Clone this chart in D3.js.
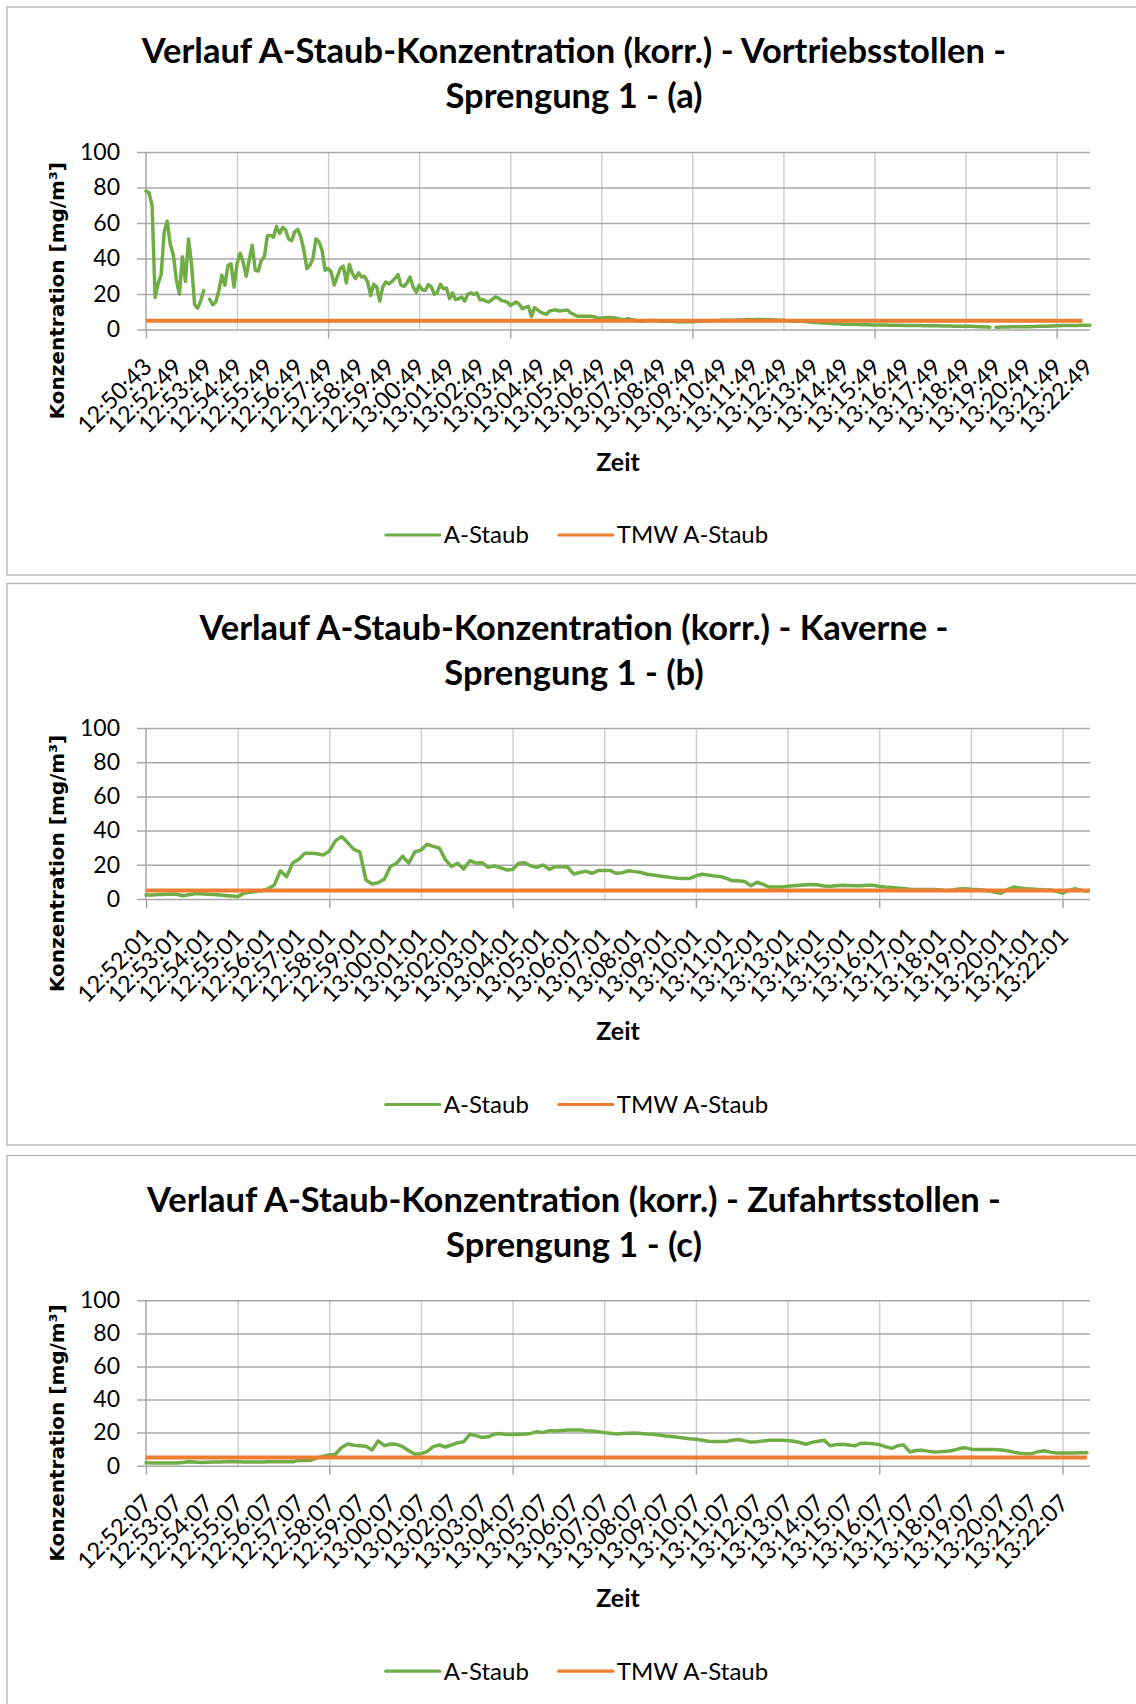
<!DOCTYPE html>
<html>
<head>
<meta charset="utf-8">
<script src="https://cdn.jsdelivr.net/npm/d3@7"></script>
<style>
  html, body { margin: 0; padding: 0; background: #fff; }
  svg { display: block; }
</style>
</head>
<body>
<svg id="chart" width="1136" height="1704"></svg>
<script>
// ---- data ----

// (a) Vortriebsstollen: one value per category
const staubA = [
  78, 77, 70, 18, 26, 31, 55, 61, 48, 42,
  28, 20, 41, 27, 51, 37, 14, 12, 16, 22,
  null, 17, 14, 15.5, 22, 30.6, 25, 36, 37, 24,
  37, 43, 38, 30, 39, 47.5, 33.4, 33, 39, 41,
  53, 53, 52, 58, 54, 57.5, 56, 51, 50, 55,
  56.4, 52, 44.7, 34.3, 36, 40, 51, 49.4, 44.7, 33.4,
  34.3, 32.5, 25, 29.6, 34.3, 35.7, 26.2, 36.6, 31.5, 28.7,
  31.9, 29.6, 30, 26.8, 19.2, 25.5, 24, 16, 24, 26.8,
  25.8, 27, 28.7, 31, 25, 24.3, 26.2, 29.6, 24, 21,
  25, 22.5, 22, 25.3, 24, 19.8, 21, 25.5, 23, 23.4,
  17.4, 20.6, 16.8, 17.4, 18.3, 16, 19.8, 20.6, 19.8, 20.6,
  16.8, 16.8, 16, 15.5, 16.8, 18.3, 17.9, 16.4, 16, 15.5,
  13.6, 14.5, 15.5, 14.2, 11.7, 12.5, 13, 7.4, 12.3, 11.1,
  9.8, 9, 8.5, 10.4, 10.8, 11.1, 10.4, 10.6, 10.8, 10.8,
  9.2, 8.5, 7.5, 7.5, 7.5, 7.5, 7.4, 7.4, 7, 6.4,
  6.5, 6.6, 6.7, 6.8, 6.6, 6.4, 6, 5.7, 5.8, 6,
  5.5, 5.3, 5.0, 4.7, 4.8, 5.0, 5.1, 5.2, 5.0, 4.8,
  4.7, 4.7, 4.6, 4.7, 4.5, 4.4, 4.3, 4.3, 4.3, 4.4,
  4.3, 4.5, 4.6, 4.8, 4.9, 4.9, 5.0, 4.9, 5.0, 5.1,
  5.2, 5.2, 5.3, 5.2, 5.2, 5.3, 5.4, 5.5, 5.6, 5.7,
  5.5, 5.6, 5.7, 5.6, 5.5, 5.6, 5.5, 5.4, 5.3, 5.2,
  5.2, 5.0, 4.9, 4.8, 4.7, 4.7, 4.6, 4.5, 4.4, 4.2,
  4.0, 3.9, 3.8, 3.7, 3.6, 3.5, 3.4, 3.3, 3.2, 3.1,
  3.0, 3.0, 2.9, 2.9, 2.8, 2.8, 2.7, 2.7, 2.7, 2.6,
  2.6, 2.6, 2.5, 2.5, 2.5, 2.4, 2.4, 2.4, 2.4, 2.4,
  2.3, 2.3, 2.3, 2.2, 2.2, 2.2, 2.1, 2.1, 2.1, 2.1,
  2.1, 2.1, 2.0, 2.0, 2.0, 2.0, 1.9, 1.9, 1.9, 1.9,
  1.9, 1.8, 1.8, 1.7, 1.6, 1.5, 1.4, 1.4, 1.3, null,
  1.3, 1.3, 1.4, 1.4, 1.4, 1.5, 1.5, 1.5, 1.5, 1.6,
  1.6, 1.6, 1.7, 1.7, 1.8, 1.8, 1.9, 1.9, 2.0, 2.0,
  2.1, 2.1, 2.2, 2.2, 2.2, 2.3, 2.3, 2.3, 2.4, 2.4, 2.4, 2.4
];

// (b) Kaverne: one value every 2nd category
const staubB = [
  2.3, 2.4, 2.6, 2.7, 2.9, 2.8, 1.9, 2.5, 3.1, 3.0,
  2.8, 2.6, 2.3, 2.0, 1.7, 1.4, 3.3, 4.0, 4.4, 4.9,
  6.0, 8.2, 16.5, 13, 21, 23.2, 26.7, 26.7, 26.5, 25.7,
  28, 34, 36.5, 33, 29, 27.5, 11.1, 8.8, 9.5, 11.5,
  19, 20.9, 25.1, 21, 27.6, 28.5, 32, 30.8, 29.8, 23,
  19, 20.9, 17.5, 22.4, 21, 21.2, 18.5, 19.3, 18.3, 17,
  17.3, 20.9, 21.2, 19.3, 18.5, 19.9, 17.3, 18.9, 18.9, 18.7,
  14.6, 15.5, 16.3, 15, 16.6, 16.6, 16.6, 15, 15.4, 16.5,
  16, 15.5, 14.5, 14, 13.5, 13, 12.5, 12.2, 12, 12,
  13.5, 14.5, 14, 13.5, 13.2, 12, 10.6, 10.6, 10.3, 7.7,
  9.8, 8.5, 7, 7, 7, 7.4, 7.8, 8.1, 8.3, 8.5,
  8.2, 7.6, 7.4, 7.8, 8.1, 7.9, 7.7, 7.8, 8.0, 8.0,
  7.4, 7, 6.8, 6.4, 6.1, 5.7, 5.5, 5.5, 5.5, 5.5,
  5.2, 4.9, 5.2, 5.8, 6, 5.7, 5.5, 5.3, 4.6, 4.0,
  3.4, 5.5, 7, 6.5, 6, 5.8, 5.6, 5.4, 5.3, 4.5,
  3.4, 5.0, 6, 5.2, 4.5
];

// (c) Zufahrtsstollen: one value every 2nd category
const staubC = [
  1.8, 1.7, 1.6, 1.6, 1.6, 1.6, 2.0, 2.4, 2.2, 2.0,
  2.1, 2.2, 2.2, 2.4, 2.6, 2.4, 2.2, 2.2, 2.2, 2.3,
  2.4, 2.4, 2.4, 2.4, 2.4, 3.2, 3.2, 3.3, 4.8, 5.8,
  6.5, 6.9, 11, 13.1, 12.4, 12.1, 11.7, 9.5, 15, 12.1,
  13.1, 12.9, 11.5, 9, 7.1, 7.2, 8.5, 11.5, 12.5, 11.3,
  12.5, 13.9, 14.5, 19, 18.2, 17, 17.5, 19, 19.4, 18.8,
  18.8, 19, 19.2, 19.5, 20.6, 20, 21.2, 21, 21.3, 21.6,
  21.6, 21.6, 21.2, 21, 20.6, 20, 19.6, 19.2, 19.4, 19.6,
  19.7, 19.5, 19.2, 19, 18.5, 18, 17.6, 17.2, 16.8, 16.3,
  16, 15.4, 14.8, 14.7, 14.7, 14.7, 15.4, 15.8, 15, 14.3,
  14.5, 15, 15.4, 15.4, 15.4, 15.2, 14.8, 14, 13, 14.1,
  14.8, 15.4, 12, 12.8, 13, 12.5, 12, 13.5, 13.5, 13.2,
  12.8, 11.5, 10.5, 12, 12.6, 8.3, 9.2, 9.4, 8.8, 8.3,
  8.5, 8.8, 9.2, 10.2, 10.9, 10, 9.8, 9.8, 9.8, 9.8,
  9.5, 9, 8.2, 7.5, 7.3, 7.3, 8.5, 9, 8.2, 7.7,
  7.7, 7.7, 7.7, 7.8, 7.9
];

// TMW A-Staub (Tagesmittelwert) – constant level
const tmwLevel = 5;

const labelsA = ["12:50:43", "12:52:49", "12:53:49", "12:54:49", "12:55:49", "12:56:49", "12:57:49", "12:58:49",
  "12:59:49", "13:00:49", "13:01:49", "13:02:49", "13:03:49", "13:04:49", "13:05:49", "13:06:49", "13:07:49",
  "13:08:49", "13:09:49", "13:10:49", "13:11:49", "13:12:49", "13:13:49", "13:14:49", "13:15:49", "13:16:49",
  "13:17:49", "13:18:49", "13:19:49", "13:20:49", "13:21:49", "13:22:49"];
const labelsB = ["12:52:01", "12:53:01", "12:54:01", "12:55:01", "12:56:01", "12:57:01", "12:58:01", "12:59:01",
  "13:00:01", "13:01:01", "13:02:01", "13:03:01", "13:04:01", "13:05:01", "13:06:01", "13:07:01", "13:08:01",
  "13:09:01", "13:10:01", "13:11:01", "13:12:01", "13:13:01", "13:14:01", "13:15:01", "13:16:01", "13:17:01",
  "13:18:01", "13:19:01", "13:20:01", "13:21:01", "13:22:01"];
const labelsC = ["12:52:07", "12:53:07", "12:54:07", "12:55:07", "12:56:07", "12:57:07", "12:58:07", "12:59:07",
  "13:00:07", "13:01:07", "13:02:07", "13:03:07", "13:04:07", "13:05:07", "13:06:07", "13:07:07", "13:08:07",
  "13:09:07", "13:10:07", "13:11:07", "13:12:07", "13:13:07", "13:14:07", "13:15:07", "13:16:07", "13:17:07",
  "13:18:07", "13:19:07", "13:20:07", "13:21:07", "13:22:07"];

const yTicks = [0, 20, 40, 60, 80, 100];

const titlesA = ["Verlauf A-Staub-Konzentration (korr.) - Vortriebsstollen -", "Sprengung 1 - (a)"];
const titlesB = ["Verlauf A-Staub-Konzentration (korr.) - Kaverne -", "Sprengung 1 - (b)"];
const titlesC = ["Verlauf A-Staub-Konzentration (korr.) - Zufahrtsstollen -", "Sprengung 1 - (c)"];

const seriesNames = ["A-Staub", "TMW A-Staub"];

// categories per chart, label interval, gridline interval
const chartData = [
  { values: staubA, step: 1, nCats: 312, labels: labelsA, tmwLast: 308.5, titles: titlesA },
  { values: staubB, step: 2, nCats: 310, labels: labelsB, tmwLast: 309, titles: titlesB },
  { values: staubC, step: 2, nCats: 310, labels: labelsC, tmwLast: 308, titles: titlesC }
];
const labelEvery = 10, gridEvery = 30, tickEvery = 60;

// ---- layout ----
const layouts = [
  { frameTop: 7, frameBottom: 575, plotTop: 152, plotBottom: 329.5 },
  { frameTop: 583.5, frameBottom: 1145, plotTop: 728, plotBottom: 899 },
  { frameTop: 1155.5, frameBottom: 1730, plotTop: 1300.3, plotBottom: 1465.7 }
];
const plotLeft = 146, plotRight = 1090;
const GREEN = "#70ad47", ORANGE = "#ed7d31";
const FONT = "Lato, 'Open Sans', sans-serif";

const svg = d3.select("#chart");
svg.append("rect").attr("width", 1136).attr("height", 1704).attr("fill", "#fff");

chartData.forEach((d, k) => drawChart(d, layouts[k]));

function drawChart(d, L) {
  const g = svg.append("g");

  g.append("rect")
    .attr("x", 7).attr("y", L.frameTop)
    .attr("width", 1140).attr("height", L.frameBottom - L.frameTop)
    .attr("fill", "#fff").attr("stroke", "#b4b4b4").attr("stroke-width", 1.3);

  const x = d3.scaleLinear().domain([0, d.nCats - 1]).range([plotLeft, plotRight]);
  const y = d3.scaleLinear().domain([0, 100]).range([L.plotBottom, L.plotTop]);

  // title
  g.selectAll("text.title")
    .data(d.titles)
    .enter().append("text")
    .attr("class", "title")
    .attr("x", 574)
    .attr("y", (t, i) => L.frameTop + 56 + i * 45)
    .attr("text-anchor", "middle")
    .style("font-family", FONT).style("font-weight", 700).style("font-size", "34.5px")
    .attr("fill", "#000")
    .text(t => t);

  // vertical gridlines
  const gridIdx = d3.range(gridEvery, d.nCats, gridEvery);
  g.append("g")
    .attr("transform", `translate(0,${L.plotBottom})`)
    .call(d3.axisBottom(x).tickValues(gridIdx).tickSize(-(L.plotBottom - L.plotTop)).tickFormat(""))
    .call(a => a.select(".domain").remove())
    .call(a => a.selectAll("line").attr("stroke", "#d0d0d0").attr("stroke-width", 1.5));

  // horizontal gridlines (extend left as tick marks)
  g.append("g")
    .attr("transform", `translate(${plotLeft - 9},0)`)
    .call(d3.axisLeft(y).tickValues(yTicks).tickSize(-(plotRight - plotLeft + 9)).tickFormat(""))
    .call(a => a.select(".domain").remove())
    .call(a => a.selectAll("line").attr("stroke", "#a8a8a8").attr("stroke-width", 1.5));

  // y axis line
  g.append("line")
    .attr("x1", plotLeft).attr("x2", plotLeft)
    .attr("y1", y(0)).attr("y2", y(100))
    .attr("stroke", "#a8a8a8").attr("stroke-width", 1.5);

  // x tick marks below axis
  g.append("g")
    .attr("transform", `translate(0,${L.plotBottom})`)
    .call(d3.axisBottom(x).tickValues(d3.range(0, d.nCats, tickEvery)).tickSize(9).tickFormat(""))
    .call(a => a.select(".domain").remove())
    .call(a => a.selectAll("line").attr("stroke", "#a8a8a8").attr("stroke-width", 1.5));

  // y tick labels
  g.append("g")
    .attr("transform", `translate(${plotLeft},0)`)
    .call(d3.axisLeft(y).tickValues(yTicks).tickSize(0).tickPadding(26))
    .call(a => a.select(".domain").remove())
    .call(a => a.selectAll("text")
      .attr("fill", "#000")
      .style("font-family", FONT).style("font-size", "23px"));

  // x tick labels, rotated
  const labelIdx = d.labels.map((_, i) => i * labelEvery);
  g.append("g")
    .attr("transform", `translate(0,${L.plotBottom})`)
    .call(d3.axisBottom(x).tickValues(labelIdx).tickSize(0).tickFormat((v, i) => d.labels[i]))
    .call(a => a.select(".domain").remove())
    .call(a => a.selectAll("text")
      .attr("x", 0).attr("y", 0).attr("dy", "0.35em")
      .attr("text-anchor", "end")
      .attr("transform", "translate(1,33) rotate(-45)")
      .attr("fill", "#000")
      .style("font-family", FONT).style("font-size", "23.5px"));

  // axis titles
  g.append("text")
    .attr("x", (plotLeft + plotRight) / 2)
    .attr("y", L.plotBottom + 141)
    .attr("text-anchor", "middle")
    .style("font-family", FONT).style("font-weight", 700).style("font-size", "25px")
    .text("Zeit");

  g.append("text")
    .attr("transform", `translate(57,${(L.plotTop + L.plotBottom) / 2 + 50}) rotate(-90)`)
    .attr("text-anchor", "middle")
    .attr("dy", "0.35em")
    .style("font-family", "'DejaVu Sans', sans-serif").style("font-weight", 700).style("font-size", "20px")
    .text("Konzentration [mg/m³]");

  // series
  const line = d3.line()
    .defined(v => v != null)
    .x((v, i) => x(i * d.step))
    .y(v => y(v));

  g.append("path")
    .datum(d.values)
    .attr("d", line)
    .attr("fill", "none")
    .attr("stroke", GREEN)
    .attr("stroke-width", 3.5)
    .attr("stroke-linejoin", "round")
    .attr("stroke-linecap", "round");

  g.append("path")
    .datum([[0, tmwLevel], [d.tmwLast, tmwLevel]])
    .attr("d", d3.line().x(p => x(p[0])).y(p => y(p[1])))
    .attr("fill", "none")
    .attr("stroke", ORANGE)
    .attr("stroke-width", 4);

  // legend
  const legY = L.plotBottom + 205.5;
  const leg = g.append("g");
  let cx = 0;
  seriesNames.forEach((name, i) => {
    const it = leg.append("g").attr("transform", `translate(${cx},0)`);
    it.append("line")
      .attr("x1", 0).attr("x2", 54).attr("y1", 0).attr("y2", 0)
      .attr("stroke", i === 0 ? GREEN : ORANGE).attr("stroke-width", 3.2)
      .attr("stroke-linecap", "round");
    const t = it.append("text")
      .attr("x", 58).attr("dy", "0.35em")
      .style("font-family", FONT).style("font-size", "24px")
      .attr("fill", "#000")
      .text(name);
    cx += 58 + t.node().getComputedTextLength() + 30;
  });
  const legW = cx - 30;
  leg.attr("transform", `translate(${577 - legW / 2},${legY})`);
}
</script>
</body>
</html>
